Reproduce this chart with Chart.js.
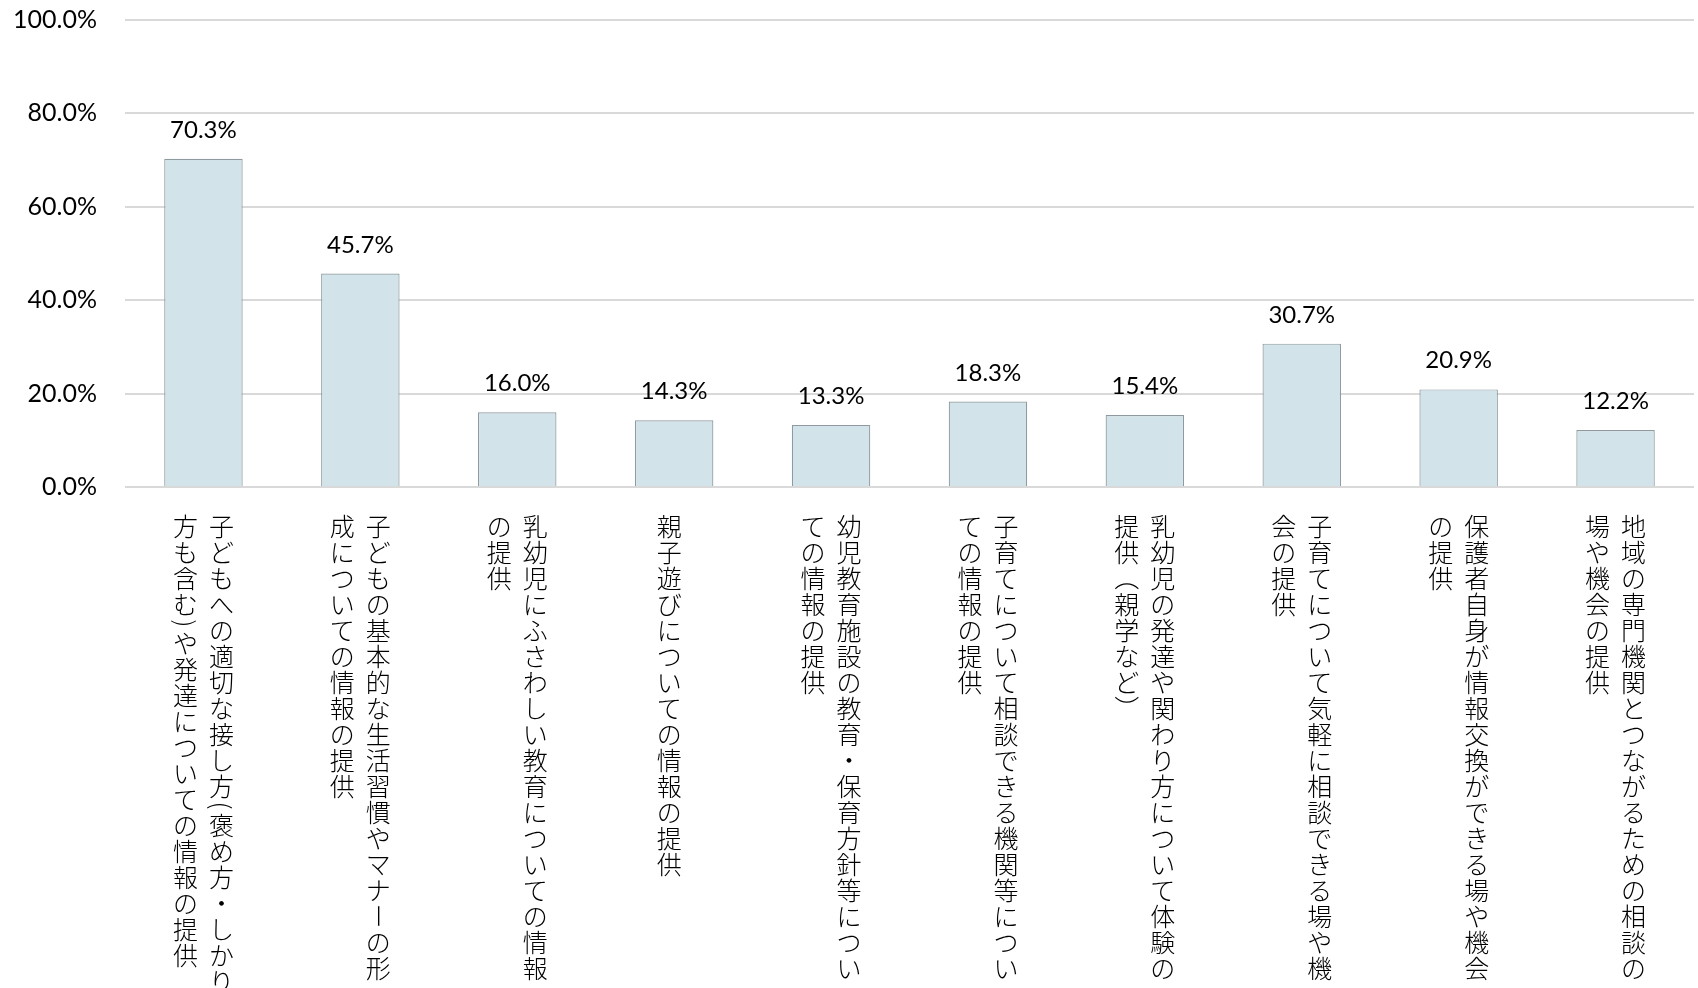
<!DOCTYPE html>
<html lang="ja">
<head>
<meta charset="utf-8">
<title>子育て支援に関する希望</title>
<script src="https://cdn.jsdelivr.net/npm/chart.js@4.4.1/dist/chart.umd.min.js"></script>
<style>
  html, body { margin: 0; padding: 0; background: #fff; }
  #wrap { width: 1698px; height: 988px; position: relative; }
</style>
</head>
<body>
<div id="wrap"><canvas id="chart"></canvas></div>
<script>
// 縦書きの項目名（列ごと、右の列から）
const labelLines = [
    ['子どもへの適切な接し方(褒め方・しかり', '方も含む)や発達についての情報の提供'],
    ['子どもの基本的な生活習慣やマナーの形', '成についての情報の提供'],
    ['乳幼児にふさわしい教育についての情報', 'の提供'],
    ['親子遊びについての情報の提供'],
    ['幼児教育施設の教育・保育方針等につい', 'ての情報の提供'],
    ['子育てについて相談できる機関等につい', 'ての情報の提供'],
    ['乳幼児の発達や関わり方について体験の', '提供（親学など）'],
    ['子育てについて気軽に相談できる場や機', '会の提供'],
    ['保護者自身が情報交換ができる場や機会', 'の提供'],
    ['地域の専門機関とつながるための相談の', '場や機会の提供']
];
const categories = labelLines.map(l => l.join(''));
const values = [70.3, 45.7, 16.0, 14.3, 13.3, 18.3, 15.4, 30.7, 20.9, 12.2];
const yMax = 100;
const yStep = 20;

const cjkFont = '300 25px "Noto Sans CJK JP", "Noto Sans CJK SC", sans-serif';
const rotated = new Set(['(', ')', '（', '）', 'ー']);
const halfWidth = new Set(['(', ')']);

// 項目名を縦書きで描く
const verticalLabels = {
    id: 'verticalLabels',
    afterDraw(chart) {
        const ctx = chart.ctx;
        const xs = chart.scales.x;
        const pitch = 26;
        const colGap = 36;
        const top = chart.chartArea.bottom + 26;
        ctx.save();
        ctx.font = cjkFont;
        ctx.fillStyle = '#000';
        ctx.textAlign = 'center';
        ctx.textBaseline = 'middle';
        labelLines.forEach((lines, i) => {
            const cx = xs.getPixelForValue(i);
            const n = lines.length;
            lines.forEach((line, j) => {
                const colX = n === 1 ? cx - 5 : cx + ((n - 1) / 2 - j) * colGap;
                let y = top;
                for (const ch of line) {
                    const step = halfWidth.has(ch) ? pitch / 2 : pitch;
                    const cy = y + step / 2;
                    if (rotated.has(ch)) {
                        ctx.save();
                        ctx.translate(colX, cy);
                        ctx.rotate(Math.PI / 2);
                        ctx.fillText(ch, 0, 0);
                        ctx.restore();
                    } else {
                        ctx.fillText(ch, colX, cy);
                    }
                    y += step;
                }
            });
        });
        ctx.restore();
    }
};

// 棒の上に値を表示
const valueLabels = {
    id: 'valueLabels',
    afterDatasetsDraw(chart) {
        const ctx = chart.ctx;
        const meta = chart.getDatasetMeta(0);
        ctx.save();
        ctx.font = '24px Lato, "Open Sans", sans-serif';
        ctx.fillStyle = '#000';
        ctx.textAlign = 'center';
        ctx.textBaseline = 'alphabetic';
        meta.data.forEach((bar, i) => {
            ctx.fillText(values[i].toFixed(1) + '%', bar.x, bar.y - 21);
        });
        ctx.restore();
    }
};

new Chart(document.getElementById('chart'), {
    type: 'bar',
    data: {
        labels: categories,
        datasets: [{
            data: values,
            backgroundColor: '#d2e4e9',
            borderColor: '#8e9a9f',
            borderWidth: 1.2,
            categoryPercentage: 1,
            barPercentage: 0.5
        }]
    },
    options: {
        responsive: true,
        maintainAspectRatio: false,
        animation: false,
        layout: { padding: { top: 20, right: 4, bottom: 501, left: 0 } },
        plugins: {
            legend: { display: false },
            tooltip: { enabled: false }
        },
        scales: {
            x: { display: false },
            y: {
                min: 0,
                max: yMax,
                afterFit: (s) => {
                    s.width = 125;
                    s.paddingTop = 15;
                    s.paddingBottom = 15;
                },
                border: { display: false },
                grid: { color: '#d9d9d9', lineWidth: 2, drawTicks: false },
                ticks: {
                    stepSize: yStep,
                    padding: 28,
                    color: '#000',
                    font: { family: 'Lato, "Open Sans", sans-serif', size: 25 },
                    callback: (v) => v.toFixed(1) + '%'
                }
            }
        }
    },
    plugins: [valueLabels, verticalLabels]
});
</script>
</body>
</html>
